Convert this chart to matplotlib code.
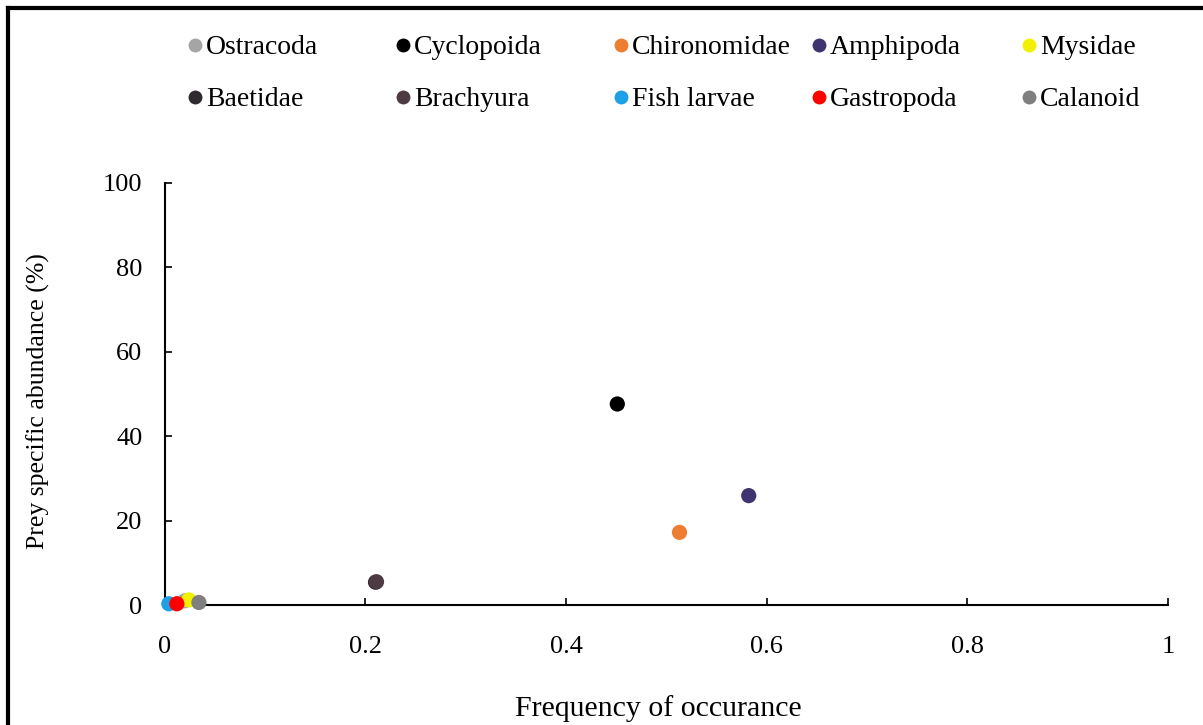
import matplotlib.pyplot as plt
from matplotlib.lines import Line2D

plt.rcParams['font.family'] = ['Liberation Serif', 'DejaVu Serif']

# prey groups, frequency of occurrence and prey specific abundance (%)
prey = ['Ostracoda', 'Cyclopoida', 'Chironomidae', 'Amphipoda', 'Mysidae',
        'Baetidae', 'Brachyura', 'Fish larvae', 'Gastropoda', 'Calanoid']
freq = [0.020, 0.451, 0.513, 0.582, 0.024, 0.210, 0.211, 0.004, 0.012, 0.034]
abund = [1.0, 47.6, 17.2, 25.9, 1.2, 5.4, 5.5, 0.3, 0.3, 0.6]
colors = ['#a5a5a5', '#000000', '#ed7d31', '#3f3470', '#f0f000',
          '#2e2a30', '#4e3a42', '#1ea0e6', '#ff0000', '#7f7f7f']

xticks = [0, 0.2, 0.4, 0.6, 0.8, 1]
xticklabels = ['0', '0.2', '0.4', '0.6', '0.8', '1']
yticks = [0, 20, 40, 60, 80, 100]

fig = plt.figure(figsize=(12.03, 7.25), dpi=100)
ax = fig.add_axes([0.137, 0.1655, 0.834, 0.5825])

for x, y, c in zip(freq, abund, colors):
    ax.scatter(x, y, s=120, color=c, edgecolors='none', zorder=3, clip_on=False)

ax.set_xlim(0, 1)
ax.set_ylim(0, 100)
ax.set_xticks(xticks)
ax.set_xticklabels(xticklabels)
ax.set_yticks(yticks)
ax.tick_params(direction='in', length=5, width=1.2, labelsize=19)
ax.tick_params(axis='y', pad=16)
ax.tick_params(axis='x', pad=22)
for side in ['top', 'right']:
    ax.spines[side].set_visible(False)
for side in ['left', 'bottom']:
    ax.spines[side].set_linewidth(1.5)

fig.text(0.547, 0.023, 'Frequency of occurance', ha='center', va='center', fontsize=21.5)
fig.text(0.032, 0.447, 'Prey specific abundance (%)', ha='center', va='center',
         fontsize=18.5, rotation=90)

# legend laid out as a 5 x 2 grid across the top
col_x = [195, 403, 621, 819, 1029]
row_y = [45, 97]
W, H = 1203, 725
for i, (name, c) in enumerate(zip(prey, colors)):
    r, k = divmod(i, 5)
    fx = col_x[k] / W
    fy = 1 - row_y[r] / H
    fig.add_artist(Line2D([fx], [fy], marker='o', markersize=10, color=c,
                          markeredgecolor='none', linestyle='none',
                          transform=fig.transFigure))
    fig.text(fx + 11 / W, fy, name, ha='left', va='center_baseline', fontsize=20)

# frame on the left and top of the figure
fig.add_artist(Line2D([8 / W, 8 / W], [0, 1 - 8 / H], color='black', lw=3,
                      transform=fig.transFigure))
fig.add_artist(Line2D([8 / W, 1], [1 - 8 / H, 1 - 8 / H], color='black', lw=3,
                      transform=fig.transFigure))

fig.savefig('out.png', dpi=100)
